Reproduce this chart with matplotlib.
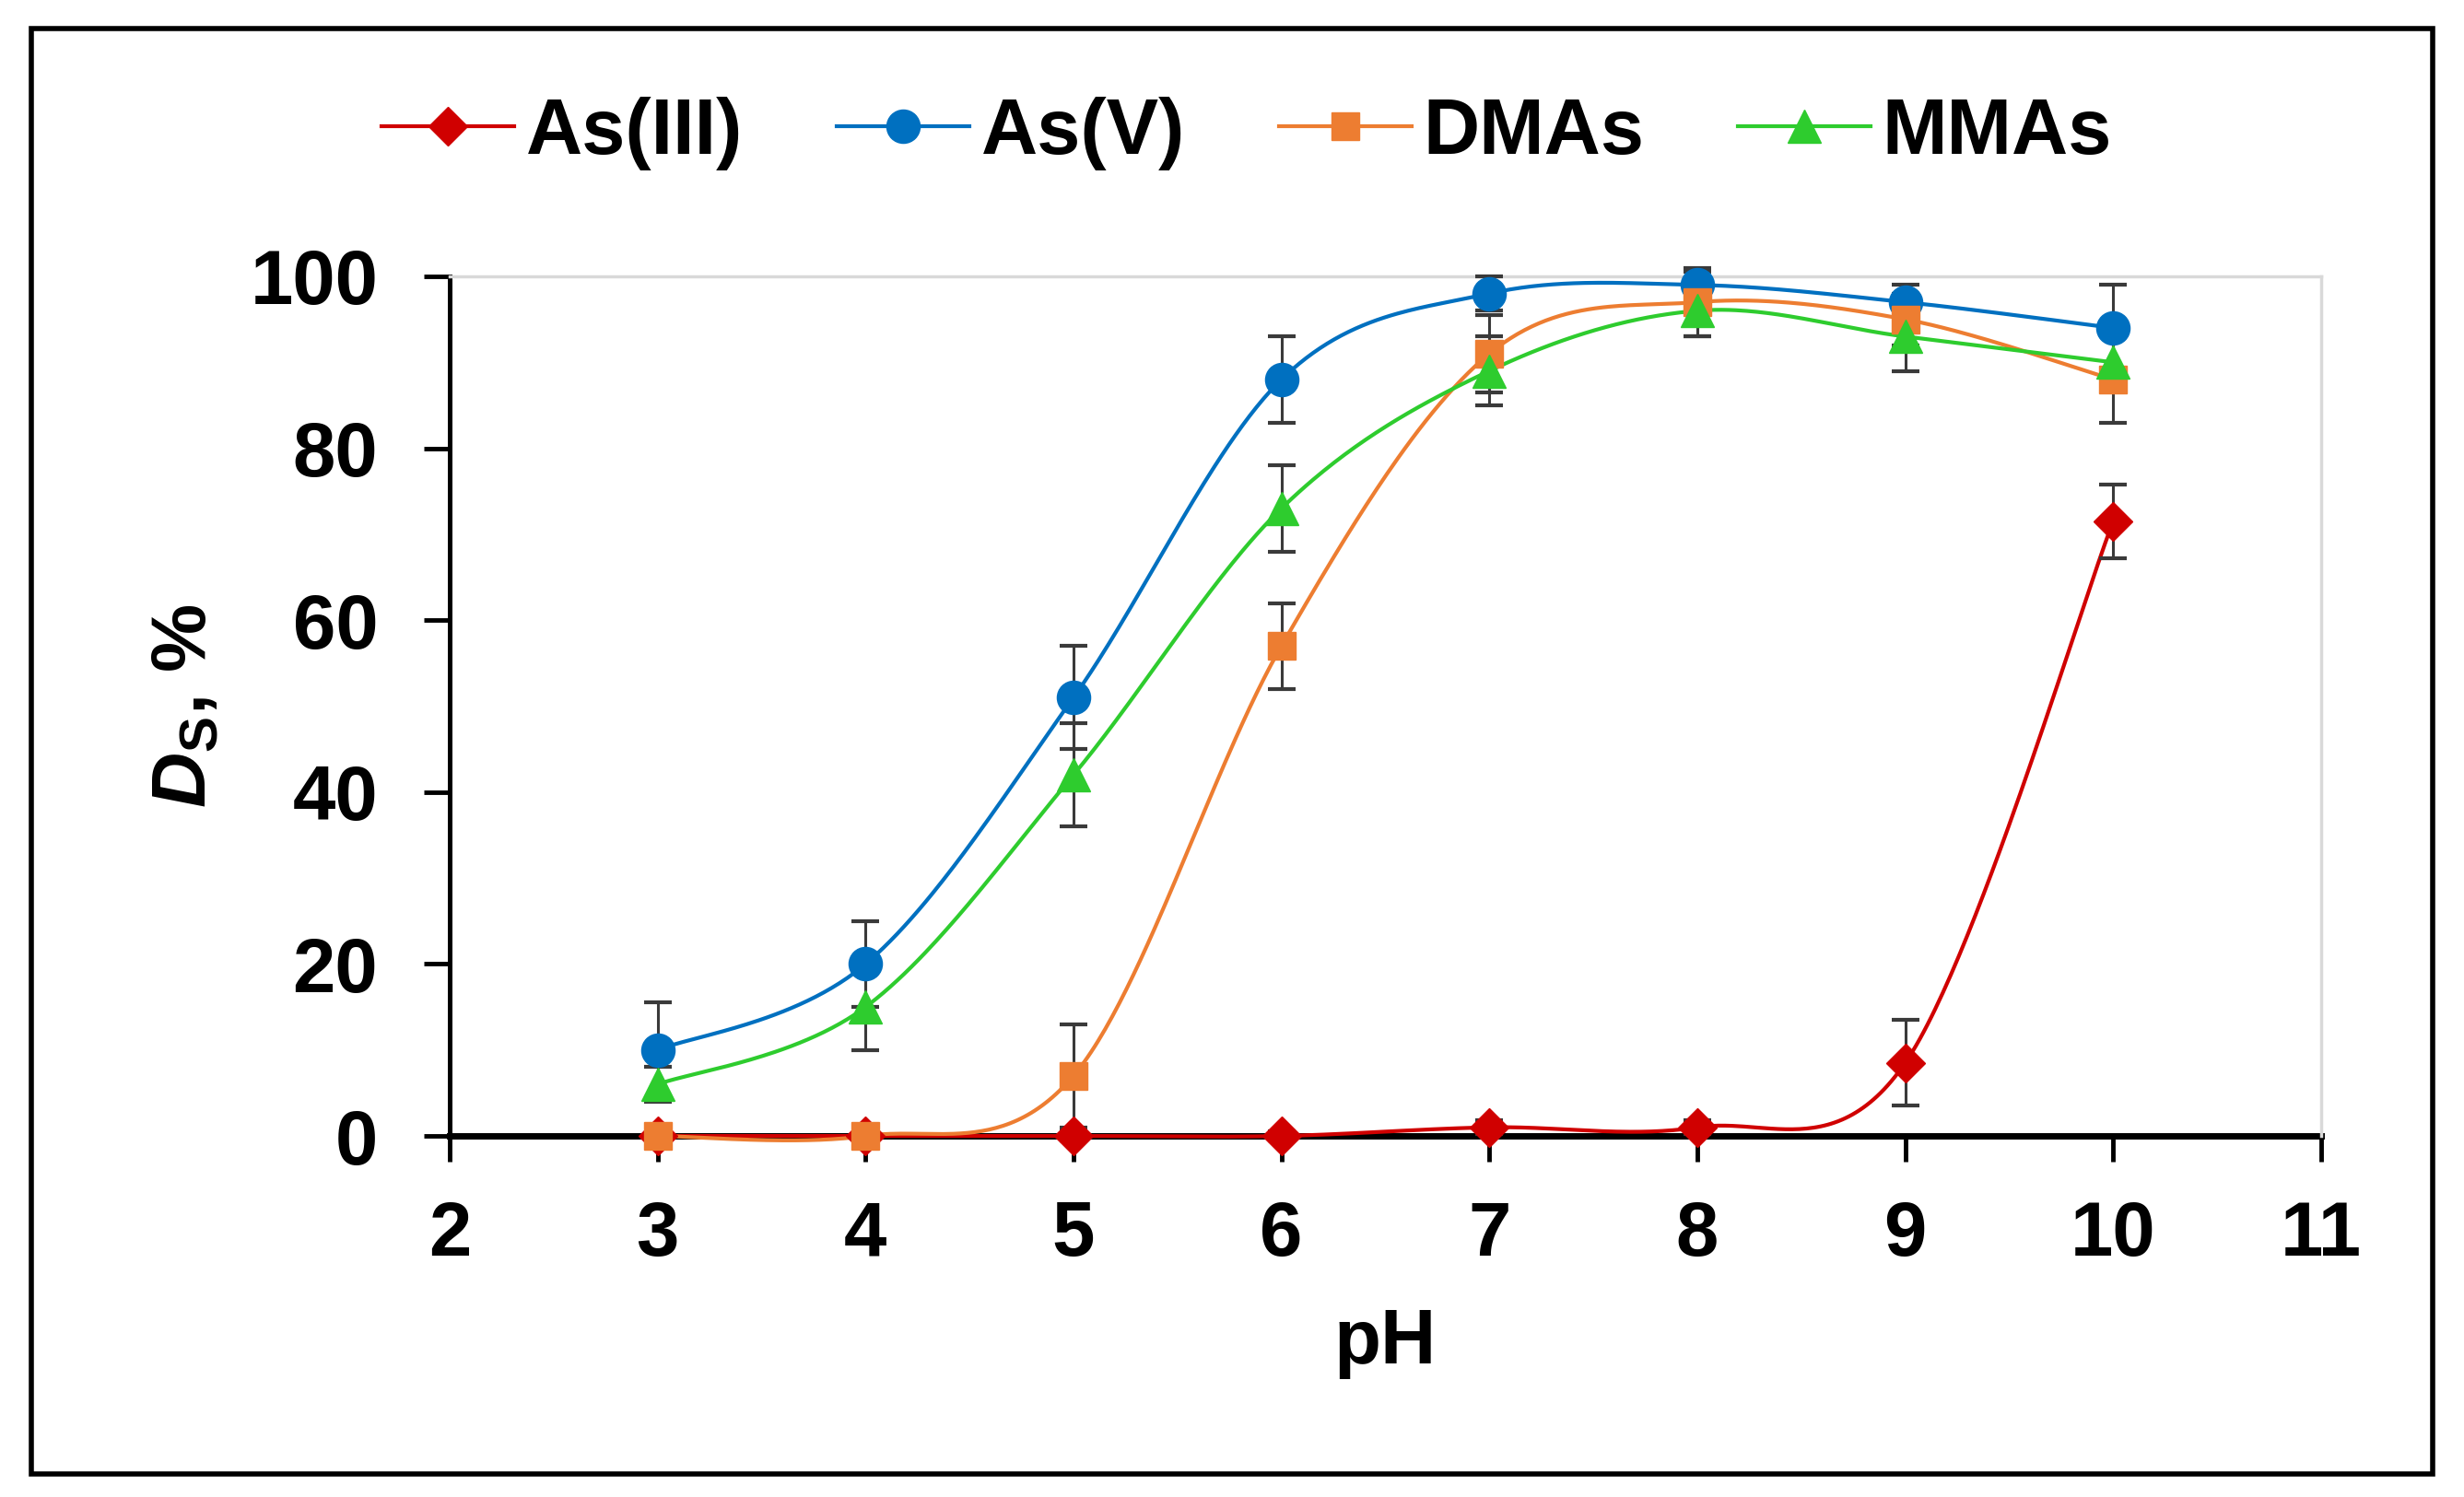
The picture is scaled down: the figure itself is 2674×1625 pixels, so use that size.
import numpy as np
import matplotlib
matplotlib.use("Agg")
import matplotlib.pyplot as plt
from matplotlib.patches import Rectangle

plt.rcParams['font.family'] = ['Liberation Sans', 'DejaVu Sans']
plt.rcParams['font.weight'] = 'bold'
plt.rcParams['mathtext.fontset'] = 'custom'
plt.rcParams['mathtext.rm'] = 'Liberation Sans:bold'
plt.rcParams['mathtext.it'] = 'Liberation Sans:italic:bold'
plt.rcParams['mathtext.bf'] = 'Liberation Sans:bold'

# ---- data ----
ph = [3, 4, 5, 6, 7, 8, 9, 10]
as3 = [0, 0, 0, 0, 1, 1, 8.5, 71.5]
as3_err = [0.5, 0.5, 0.5, 0.5, 0.8, 0.8, 5, 4.3]
as5 = [10, 20, 51, 88, 98, 99, 97, 94]
as5_err = [5.5, 5, 6, 5, 2, 1.5, 2, 5]
dmas = [0, 0, 7, 57, 91, 97, 95, 88]
dmas_err = [0.8, 0.8, 6, 5, 4.5, 4, 3, 5]
mmas = [6, 15, 42, 73, 89, 96, 93, 90]
mmas_err = [2, 5, 6, 5, 4, 3, 4, 3]

series = ['As(III)', 'As(V)', 'DMAs', 'MMAs']
values = [as3, as5, dmas, mmas]
errors = [as3_err, as5_err, dmas_err, mmas_err]
colors = ['#D00000', '#0070C0', '#ED7D31', '#2ECC2E']
markers = ['D', 'o', 's', '^']
msizes = [21, 26, 22, 26]

x_ticks = [2, 3, 4, 5, 6, 7, 8, 9, 10, 11]
y_ticks = [0, 20, 40, 60, 80, 100]


def smooth(xs, ys, n=60):
    """Excel-like smoothed line (Catmull-Rom cubic Bezier)."""
    P = np.column_stack([xs, ys]).astype(float)
    P = np.vstack([P[0], P, P[-1]])
    out = []
    t = np.linspace(0, 1, n)[:, None]
    for i in range(1, len(P) - 2):
        p0, p1 = P[i], P[i + 1]
        c1 = p0 + (P[i + 1] - P[i - 1]) / 6.0
        c2 = p1 - (P[i + 2] - P[i]) / 6.0
        seg = ((1 - t) ** 3) * p0 + 3 * ((1 - t) ** 2) * t * c1 + 3 * (1 - t) * t ** 2 * c2 + t ** 3 * p1
        out.append(seg if i == 1 else seg[1:])
    s = np.vstack(out)
    return s[:, 0], s[:, 1]


fig = plt.figure(figsize=(26.74, 16.25), dpi=100)
ax = fig.add_axes([0.1825, 0.2412, 0.942 - 0.1825, 0.8154 - 0.2412])

handles = []
for name, v, e, c, m, ms in zip(series, values, errors, colors, markers, msizes):
    sx, sy = smooth(ph, v)
    ax.plot(sx, sy, color=c, lw=3.0, zorder=3, clip_on=False, solid_capstyle='round')
    ax.errorbar(ph, v, yerr=e, fmt='none', ecolor='#3a3a3a', elinewidth=2.2,
                capsize=11, capthick=3, zorder=4, clip_on=False)
    ax.plot(ph, v, linestyle='none', marker=m, markersize=ms, color=c,
            markeredgecolor=c, zorder=5, clip_on=False)
    h, = ax.plot([], [], color=c, lw=3.0, marker=m, markersize=ms,
                 markeredgecolor=c, label=name)
    handles.append(h)

ax.set_xlim(2, 11)
ax.set_ylim(0, 100)
ax.set_xticks(x_ticks)
ax.set_yticks(y_ticks)
ax.tick_params(axis='x', direction='out', length=20, width=3.5, pad=30,
               labelsize=60)
ax.tick_params(axis='y', direction='out', length=20, width=3.5, pad=36,
               labelsize=60)
for lab in ax.get_xticklabels() + ax.get_yticklabels():
    lab.set_fontweight('bold')

ax.spines['left'].set_linewidth(3.6)
ax.spines['left'].set_color('black')
ax.spines['bottom'].set_linewidth(5)
ax.spines['bottom'].set_color('black')
ax.spines['bottom'].set_zorder(2)
ax.spines['top'].set_color('#D9D9D9')
ax.spines['top'].set_linewidth(2.5)
ax.spines['right'].set_color('#D9D9D9')
ax.spines['right'].set_linewidth(2.5)

ax.set_xlabel('pH', fontsize=60, fontweight='bold', labelpad=28)
ax.set_ylabel(r'$D_\mathrm{S}$, %', fontsize=60, fontweight='bold', labelpad=22)

fig.legend(handles=handles, loc='center', bbox_to_anchor=(0.506, 0.911),
           ncol=4, frameon=False, prop={'size': 61, 'weight': 'bold'},
           handlelength=1.7, handletextpad=0.15, columnspacing=1.2,
           numpoints=1)

# outer frame
fig.patches.append(Rectangle((34 / 2674, 1 - 1600 / 1625), (2640 - 34) / 2674,
                             (1600 - 31) / 1625, transform=fig.transFigure,
                             fill=False, edgecolor='black', linewidth=4))

fig.savefig('out.png', dpi=100, facecolor='white')
